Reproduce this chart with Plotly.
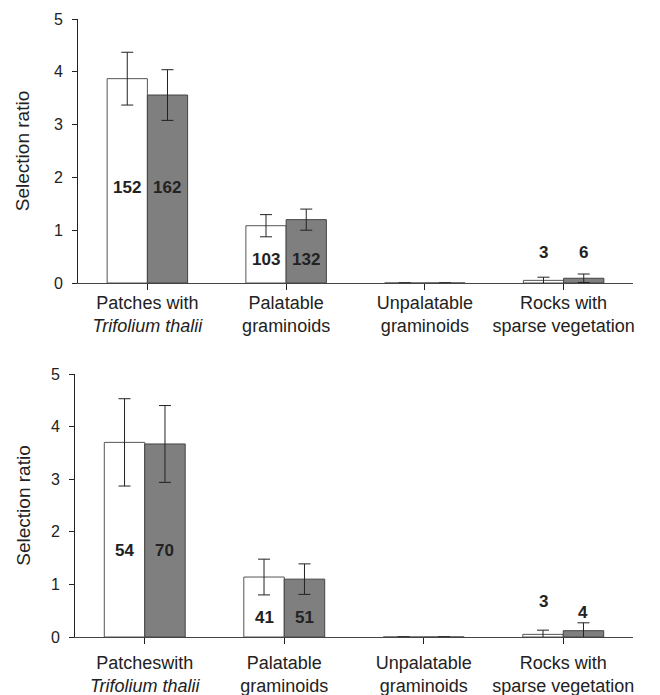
import plotly.graph_objects as go

categories = ["Patches with<br><i>Trifolium thalii</i>", "Palatable<br>graminoids",
              "Unpalatable<br>graminoids", "Rocks with<br>sparse vegetation"]
categories_bottom = ["Patcheswith<br><i>Trifolium thalii</i>", "Palatable<br>graminoids",
                     "Unpalatable<br>graminoids", "Rocks with<br>sparse vegetation"]

# top panel
top_white = [3.87, 1.085, 0.0, 0.05]
top_white_err = [0.50, 0.21, 0.0, 0.06]
top_grey = [3.56, 1.20, 0.0, 0.09]
top_grey_err = [0.48, 0.20, 0.0, 0.08]
top_white_n = ["152", "103", "", "3"]
top_grey_n = ["162", "132", "", "6"]

# bottom panel
bot_white = [3.70, 1.14, 0.0, 0.05]
bot_white_err = [0.83, 0.34, 0.0, 0.08]
bot_grey = [3.67, 1.10, 0.0, 0.12]
bot_grey_err = [0.73, 0.29, 0.0, 0.15]
bot_white_n = ["54", "41", "", "3"]
bot_grey_n = ["70", "51", "", "4"]

# label placement (layout constants, in data units)
top_label_y_white = [1.8, 0.44, None, 0.57]
top_label_y_grey = [1.8, 0.44, None, 0.57]
bot_label_y_white = [1.65, 0.38, None, 0.67]
bot_label_y_grey = [1.65, 0.38, None, 0.47]

FONT = "Liberation Sans, Arial, sans-serif"
OFF = 8  # page body margin
W, H = 660 - OFF, 695 - OFF

def px_x(p):
    return (p - OFF) / W

def px_y(p):
    return 1 - (p - OFF) / H

fig = go.Figure()
xs = [0, 1, 2, 3]

def add_panel(ax, white, werr, grey, gerr):
    fig.add_trace(go.Bar(x=xs, y=white, xaxis="x" + ax, yaxis="y" + ax,
                         marker=dict(color="white", line=dict(color="#555555", width=1)),
                         error_y=dict(type="data", array=werr, color="#222222", thickness=1, width=6),
                         offsetgroup="a", showlegend=False))
    fig.add_trace(go.Bar(x=xs, y=grey, xaxis="x" + ax, yaxis="y" + ax,
                         marker=dict(color="#7f7f7f", line=dict(color="#444444", width=1)),
                         error_y=dict(type="data", array=gerr, color="#222222", thickness=1, width=6),
                         offsetgroup="b", showlegend=False))

add_panel("", top_white, top_white_err, top_grey, top_grey_err)
add_panel("2", bot_white, bot_white_err, bot_grey, bot_grey_err)

bar_off = 0.145  # half offset of each bar from category centre

annotations = []
def add_labels(ax, nw, ng, yw, yg):
    for i in range(4):
        if nw[i]:
            annotations.append(dict(x=xs[i] - bar_off, y=yw[i], xref="x" + ax, yref="y" + ax,
                                    text="<b>%s</b>" % nw[i], showarrow=False,
                                    font=dict(family=FONT, size=17, color="#222222")))
        if ng[i]:
            annotations.append(dict(x=xs[i] + bar_off, y=yg[i], xref="x" + ax, yref="y" + ax,
                                    text="<b>%s</b>" % ng[i], showarrow=False,
                                    font=dict(family=FONT, size=17, color="#222222")))

add_labels("", top_white_n, top_grey_n, top_label_y_white, top_label_y_grey)
add_labels("2", bot_white_n, bot_grey_n, bot_label_y_white, bot_label_y_grey)

def xaxis(domain, anchor, labels, standoff):
    return dict(domain=domain, anchor=anchor, range=[-0.5, 3.5], tickmode="array",
                tickvals=xs, ticktext=labels, tickson="boundaries", ticks="outside",
                ticklen=6, tickcolor="#222222", showline=True, linecolor="#444444",
                linewidth=1, showgrid=False, zeroline=False, automargin=False,
                ticklabelstandoff=standoff,
                tickfont=dict(family=FONT, size=18, color="#222222"))

def yaxis(domain, anchor, standoff):
    return dict(domain=domain, anchor=anchor, range=[0, 5], tickvals=[0, 1, 2, 3, 4, 5],
                ticks="outside", ticklen=5, tickcolor="#222222", showline=True,
                linecolor="#222222", linewidth=1, showgrid=False, zeroline=False,
                automargin=False, ticklabelstandoff=6,
                tickfont=dict(family=FONT, size=16, color="#222222"),
                title=dict(text="Selection ratio", font=dict(family=FONT, size=19, color="#222222"),
                           standoff=standoff))

fig.update_layout(
    width=W, height=H,
    margin=dict(l=0, r=0, t=0, b=0, autoexpand=False),
    paper_bgcolor="white", plot_bgcolor="white",
    barmode="group", bargap=0.42, bargroupgap=0,
    xaxis=xaxis([px_x(78), px_x(633)], "y", categories, -3),
    yaxis=yaxis([px_y(283), px_y(19)], "x", 19),
    xaxis2=xaxis([px_x(75), px_x(633)], "y2", categories_bottom, 3),
    yaxis2=yaxis([px_y(637), px_y(374)], "x2", 15),
    annotations=annotations,
    font=dict(family=FONT),
)

fig.write_html("out.html")
